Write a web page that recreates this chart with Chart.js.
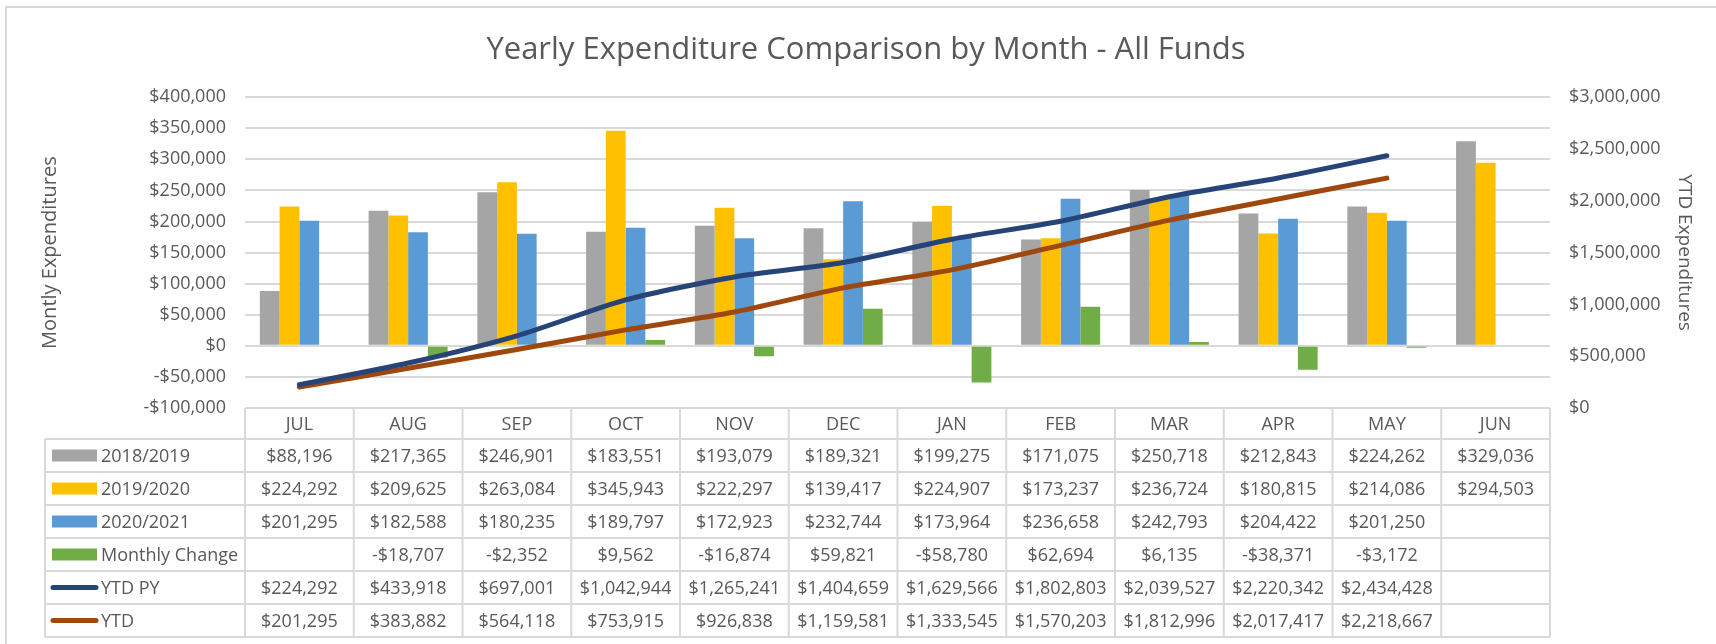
<!DOCTYPE html>
<html>
<head>
<meta charset="utf-8">
<script src="https://cdn.jsdelivr.net/npm/chart.js@4.4.1/dist/chart.umd.min.js"></script>
<style>
  html, body { margin: 0; padding: 0; background: #ffffff; }
  #wrap { width: 1716px; height: 644px; position: relative; }
</style>
</head>
<body>
<div id="wrap"><canvas id="c" width="1716" height="644"></canvas></div>
<script>
// ---- data ----
const categories = ['JUL', 'AUG', 'SEP', 'OCT', 'NOV', 'DEC', 'JAN', 'FEB', 'MAR', 'APR', 'MAY', 'JUN'];
const fy2019 = [88196, 217365, 246901, 183551, 193079, 189321, 199275, 171075, 250718, 212843, 224262, 329036];
const fy2020 = [224292, 209625, 263084, 345943, 222297, 139417, 224907, 173237, 236724, 180815, 214086, 294503];
const fy2021 = [201295, 182588, 180235, 189797, 172923, 232744, 173964, 236658, 242793, 204422, 201250, null];
const monthlyChange = [null, -18707, -2352, 9562, -16874, 59821, -58780, 62694, 6135, -38371, -3172, null];
const ytdPY = [224292, 433918, 697001, 1042944, 1265241, 1404659, 1629566, 1802803, 2039527, 2220342, 2434428, null];
const ytd = [201295, 383882, 564118, 753915, 926838, 1159581, 1333545, 1570203, 1812996, 2017417, 2218667, null];
const seriesNames = ['2018/2019', '2019/2020', '2020/2021', 'Monthly Change', 'YTD PY', 'YTD'];
const leftAxisMin = -100000, leftAxisMax = 400000, leftAxisStep = 50000;
const rightAxisMin = 0, rightAxisMax = 3000000, rightAxisStep = 500000;

// ---- style ----
const FONT = "'Open Sans', 'Noto Sans', sans-serif";
const TXT = '#595959';
const GRID = '#d9d9d9';
const colors = ['#A5A5A5', '#FFC000', '#5B9BD5', '#70AD47', '#264478', '#9E480E'];

function money(v) {
  if (v === null || v === undefined) return '';
  return (v < 0 ? '-' : '') + '$' + Math.abs(v).toLocaleString('en-US');
}

const frame = {
  id: 'frame',
  beforeDraw(chart) {
    const ctx = chart.ctx;
    ctx.save();
    ctx.fillStyle = '#ffffff';
    ctx.fillRect(0, 0, chart.width, chart.height);
    ctx.strokeStyle = GRID;
    ctx.lineWidth = 2;
    ctx.strokeRect(6, 7, chart.width + 20, chart.height + 20);
    ctx.restore();
  }
};

const dataTable = {
  id: 'dataTable',
  afterDraw(chart) {
    const ctx = chart.ctx;
    const xs = chart.scales.x;
    const n = categories.length;
    const cw = (xs.right - xs.left) / n;
    const top = chart.chartArea.bottom;
    const headH = 31;
    const rowH = 33;
    const tableLeft = 45;
    const rows = chart.data.datasets.length;
    const bodyTop = top + headH;
    const bottom = bodyTop + rows * rowH;
    ctx.save();
    ctx.strokeStyle = GRID;
    ctx.lineWidth = 2;
    ctx.beginPath();
    ctx.moveTo(xs.left, top); ctx.lineTo(xs.right, top);
    for (let r = 0; r <= rows; r++) {
      const y = bodyTop + r * rowH;
      ctx.moveTo(tableLeft, y); ctx.lineTo(xs.right, y);
    }
    ctx.moveTo(tableLeft, bodyTop); ctx.lineTo(tableLeft, bottom);
    for (let i = 0; i <= n; i++) {
      const x = xs.getPixelForValue(0) - cw / 2 + i * cw;
      ctx.moveTo(x, top); ctx.lineTo(x, bottom);
    }
    ctx.stroke();

    ctx.fillStyle = TXT;
    ctx.font = '18px ' + FONT;
    ctx.textAlign = 'center';
    ctx.textBaseline = 'middle';
    categories.forEach((c, i) => {
      ctx.fillText(c, xs.getPixelForValue(i), top + headH / 2 + 1);
    });
    chart.data.datasets.forEach((ds, r) => {
      const yc = bodyTop + r * rowH + rowH / 2 + 1;
      if (ds.type === 'line') {
        ctx.strokeStyle = ds.borderColor;
        ctx.lineWidth = 5;
        ctx.lineCap = 'round';
        ctx.beginPath();
        ctx.moveTo(53, yc - 1); ctx.lineTo(96, yc - 1);
        ctx.stroke();
      } else {
        ctx.fillStyle = ds.backgroundColor;
        ctx.fillRect(52, yc - 7, 45, 12);
      }
      ctx.fillStyle = TXT;
      ctx.textAlign = 'left';
      ctx.fillText(ds.label, 101, yc);
      ctx.textAlign = 'center';
      ds.data.forEach((v, i) => {
        ctx.fillText(money(v), xs.getPixelForValue(i), yc);
      });
    });
    ctx.restore();
  }
};

const barDs = (i, arr) => ({
  type: 'bar', label: seriesNames[i], data: arr, yAxisID: 'y',
  backgroundColor: colors[i], borderWidth: 0, order: 2,
  categoryPercentage: 0.727, barPercentage: 1.0
});
const lineDs = (i, arr) => ({
  type: 'line', label: seriesNames[i], data: arr, yAxisID: 'y1',
  borderColor: colors[i], backgroundColor: colors[i], borderWidth: 5,
  borderCapStyle: 'round', borderJoinStyle: 'round',
  pointRadius: 0, tension: 0.25, spanGaps: false, order: 1
});

new Chart(document.getElementById('c'), {
  data: {
    labels: categories,
    datasets: [
      barDs(0, fy2019), barDs(1, fy2020), barDs(2, fy2021), barDs(3, monthlyChange),
      lineDs(4, ytdPY), lineDs(5, ytd)
    ]
  },
  options: {
    responsive: false,
    animation: false,
    events: [],
    layout: { padding: { left: 16, right: 0, top: 0, bottom: 236 } },
    plugins: {
      legend: { display: false },
      tooltip: { enabled: false },
      title: {
        display: true,
        text: 'Yearly Expenditure Comparison by Month - All Funds',
        color: TXT,
        font: { family: FONT, size: 31, weight: 'normal' },
        padding: { top: 32, bottom: 28 }
      }
    },
    scales: {
      x: {
        display: false,
        offset: true
      },
      y: {
        position: 'left',
        min: leftAxisMin, max: leftAxisMax,
        afterFit(s) { s.width = 229; },
        ticks: {
          stepSize: leftAxisStep, color: TXT, padding: 19,
          font: { family: FONT, size: 18 },
          callback: v => money(v)
        },
        grid: { color: GRID, lineWidth: 2, drawTicks: false },
        border: { display: false },
        title: {
          display: true, text: 'Montly Expenditures', color: TXT,
          font: { family: FONT, size: 20 }, padding: { top: 22, bottom: 0 }
        }
      },
      y1: {
        position: 'right',
        min: rightAxisMin, max: rightAxisMax,
        afterFit(s) { s.width = 166; },
        ticks: {
          stepSize: rightAxisStep, color: TXT, padding: 19,
          font: { family: FONT, size: 18 },
          callback: v => money(v)
        },
        grid: { drawOnChartArea: false, drawTicks: false },
        border: { display: false },
        title: {
          display: true, text: 'YTD Expenditures', color: TXT,
          font: { family: FONT, size: 19 }, padding: { top: 20, bottom: 0 }
        }
      }
    }
  },
  plugins: [frame, dataTable]
});
</script>
</body>
</html>
